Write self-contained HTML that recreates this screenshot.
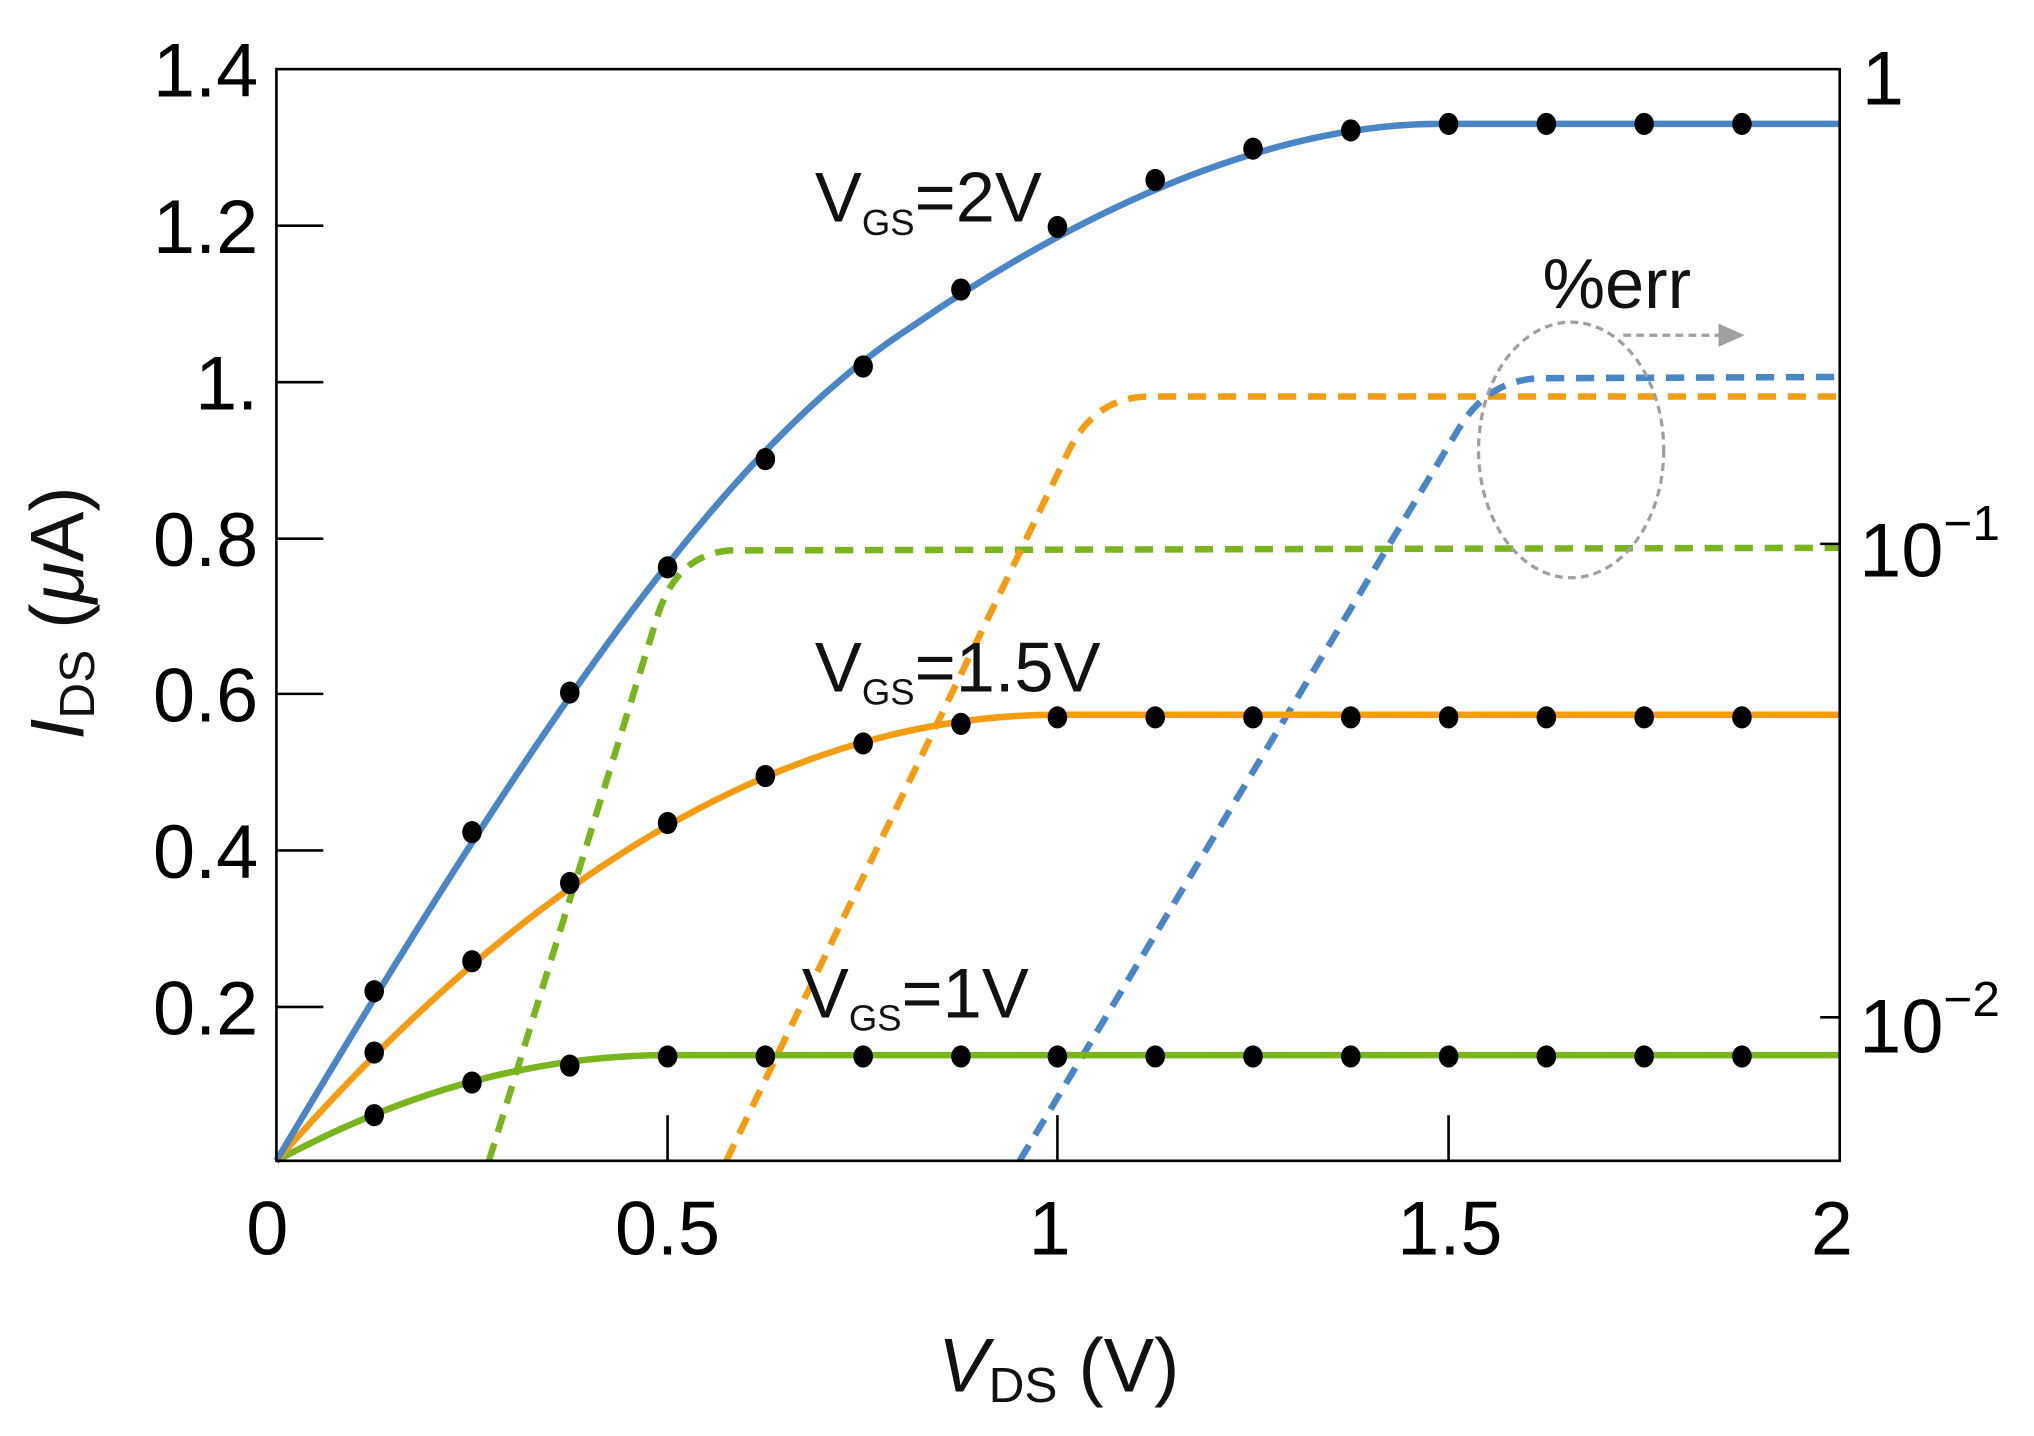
<!DOCTYPE html>
<html><head><meta charset="utf-8"><style>html,body{margin:0;padding:0;background:#fff}svg{display:block}</style></head>
<body>
<svg width="2034" height="1436" viewBox="0 0 1560 1101" preserveAspectRatio="none" xmlns="http://www.w3.org/2000/svg" font-family="Liberation Sans, sans-serif">
<rect width="1560" height="1101" fill="#fff"/>
<g fill="none" stroke-width="5" stroke-dasharray="14 9">
<path d="M375,890 L505,470 Q520,425 560,422 L1411,420" stroke="#7ab51d"/>
<path d="M557,890 L820,345 Q840,305 880,304 L1411,304" stroke="#f59d12"/>
<path d="M782,890 L1118,330 Q1140,292 1180,290 L1411,289" stroke="#4a86c5"/>
</g>
<g fill="none" stroke-width="5">
<path stroke="#7ab51d" d="M212,890 Q362,809 512,809 L1411,809"/>
<path stroke="#f59d12" d="M212,890 Q511,548 811,548 L1411,548"/>
<path stroke="#4a86c5" d="M212,890 C420,540 560,340 700,250 C860,140 1000,93 1111,95 L1411,95"/>
</g>
<rect x="212" y="53" width="1199" height="837" fill="none" stroke="#000" stroke-width="2"/>
<g stroke="#000" stroke-width="2">
<line x1="212" y1="173" x2="248" y2="173"/><line x1="212" y1="293" x2="248" y2="293"/>
<line x1="212" y1="413" x2="248" y2="413"/><line x1="212" y1="532" x2="248" y2="532"/>
<line x1="212" y1="652" x2="248" y2="652"/><line x1="212" y1="772" x2="248" y2="772"/>
<line x1="512" y1="890" x2="512" y2="855"/><line x1="811" y1="890" x2="811" y2="855"/><line x1="1111" y1="890" x2="1111" y2="855"/>
<line x1="1411" y1="417" x2="1396" y2="417"/><line x1="1411" y1="780" x2="1396" y2="780"/>
</g>
<g fill="#000">
<ellipse cx="287" cy="760" rx="7.5" ry="8.5"/><ellipse cx="362" cy="638" rx="7.5" ry="8.5"/><ellipse cx="437" cy="531" rx="7.5" ry="8.5"/><ellipse cx="512" cy="435" rx="7.5" ry="8.5"/><ellipse cx="587" cy="352" rx="7.5" ry="8.5"/><ellipse cx="662" cy="281" rx="7.5" ry="8.5"/><ellipse cx="737" cy="222" rx="7.5" ry="8.5"/><ellipse cx="811" cy="174" rx="7.5" ry="8.5"/><ellipse cx="886" cy="138" rx="7.5" ry="8.5"/><ellipse cx="961" cy="114" rx="7.5" ry="8.5"/><ellipse cx="1036" cy="100" rx="7.5" ry="8.5"/><ellipse cx="1111" cy="95" rx="7.5" ry="8.5"/><ellipse cx="1186" cy="95" rx="7.5" ry="8.5"/><ellipse cx="1261" cy="95" rx="7.5" ry="8.5"/><ellipse cx="1336" cy="95" rx="7.5" ry="8.5"/>
<ellipse cx="287" cy="807" rx="7.5" ry="8.5"/><ellipse cx="362" cy="737" rx="7.5" ry="8.5"/><ellipse cx="437" cy="677" rx="7.5" ry="8.5"/><ellipse cx="512" cy="631" rx="7.5" ry="8.5"/><ellipse cx="587" cy="595" rx="7.5" ry="8.5"/><ellipse cx="662" cy="570" rx="7.5" ry="8.5"/><ellipse cx="737" cy="555" rx="7.5" ry="8.5"/><ellipse cx="811" cy="550" rx="7.5" ry="8.5"/><ellipse cx="886" cy="550" rx="7.5" ry="8.5"/><ellipse cx="961" cy="550" rx="7.5" ry="8.5"/><ellipse cx="1036" cy="550" rx="7.5" ry="8.5"/><ellipse cx="1111" cy="550" rx="7.5" ry="8.5"/><ellipse cx="1186" cy="550" rx="7.5" ry="8.5"/><ellipse cx="1261" cy="550" rx="7.5" ry="8.5"/><ellipse cx="1336" cy="550" rx="7.5" ry="8.5"/>
<ellipse cx="287" cy="855" rx="7.5" ry="8.5"/><ellipse cx="362" cy="830" rx="7.5" ry="8.5"/><ellipse cx="437" cy="817" rx="7.5" ry="8.5"/><ellipse cx="512" cy="810" rx="7.5" ry="8.5"/><ellipse cx="587" cy="810" rx="7.5" ry="8.5"/><ellipse cx="662" cy="810" rx="7.5" ry="8.5"/><ellipse cx="737" cy="810" rx="7.5" ry="8.5"/><ellipse cx="811" cy="810" rx="7.5" ry="8.5"/><ellipse cx="886" cy="810" rx="7.5" ry="8.5"/><ellipse cx="961" cy="810" rx="7.5" ry="8.5"/><ellipse cx="1036" cy="810" rx="7.5" ry="8.5"/><ellipse cx="1111" cy="810" rx="7.5" ry="8.5"/><ellipse cx="1186" cy="810" rx="7.5" ry="8.5"/><ellipse cx="1261" cy="810" rx="7.5" ry="8.5"/><ellipse cx="1336" cy="810" rx="7.5" ry="8.5"/>
</g>
<ellipse cx="1205" cy="345" rx="71" ry="98" fill="none" stroke="#a0a0a0" stroke-width="2.5" stroke-dasharray="6 4"/>
<line x1="1245" y1="257" x2="1320" y2="257" stroke="#a0a0a0" stroke-width="2.5" stroke-dasharray="6 4"/>
<polygon points="1318,248 1338,257 1318,266" fill="#a0a0a0"/>
<text x="1183" y="236" font-size="54" fill="#111">%err</text>
<g fill="#111" font-size="54">
<text x="625" y="170">V<tspan font-size="28" dy="10">GS</tspan><tspan dy="-10">=2V</tspan></text>
<text x="625" y="530">V<tspan font-size="28" dy="10">GS</tspan><tspan dy="-10">=1.5V</tspan></text>
<text x="615" y="780">V<tspan font-size="28" dy="10">GS</tspan><tspan dy="-10">=1V</tspan></text>
</g>
<g fill="#000" font-size="58" text-anchor="end">
<text x="198" y="74">1.4</text><text x="198" y="194">1.2</text><text x="198" y="314">1.</text>
<text x="198" y="434">0.8</text><text x="198" y="553">0.6</text><text x="198" y="673">0.4</text><text x="198" y="793">0.2</text>
</g>
<g fill="#000" font-size="58" text-anchor="middle">
<text x="205" y="962">0</text><text x="512" y="962">0.5</text><text x="805" y="962">1</text><text x="1112" y="962">1.5</text><text x="1405" y="962">2</text>
</g>
<g fill="#000" font-size="58">
<text x="1428" y="80">1</text>
<text x="1426" y="442">10<tspan font-size="38" dy="-28">−1</tspan></text>
<text x="1426" y="807">10<tspan font-size="38" dy="-28">−2</tspan></text>
</g>
<text x="812" y="1067" font-size="58" text-anchor="middle" fill="#111"><tspan font-style="italic">V</tspan><tspan font-size="38" dy="8">DS</tspan><tspan dy="-8"> (V)</tspan></text>
<text transform="translate(64,470) rotate(-90)" font-size="58" text-anchor="middle" fill="#111"><tspan font-style="italic">I</tspan><tspan font-size="38" dy="8">DS</tspan><tspan dy="-8"> (</tspan><tspan font-style="italic">μ</tspan><tspan>A)</tspan></text>
</svg>
</body></html>
